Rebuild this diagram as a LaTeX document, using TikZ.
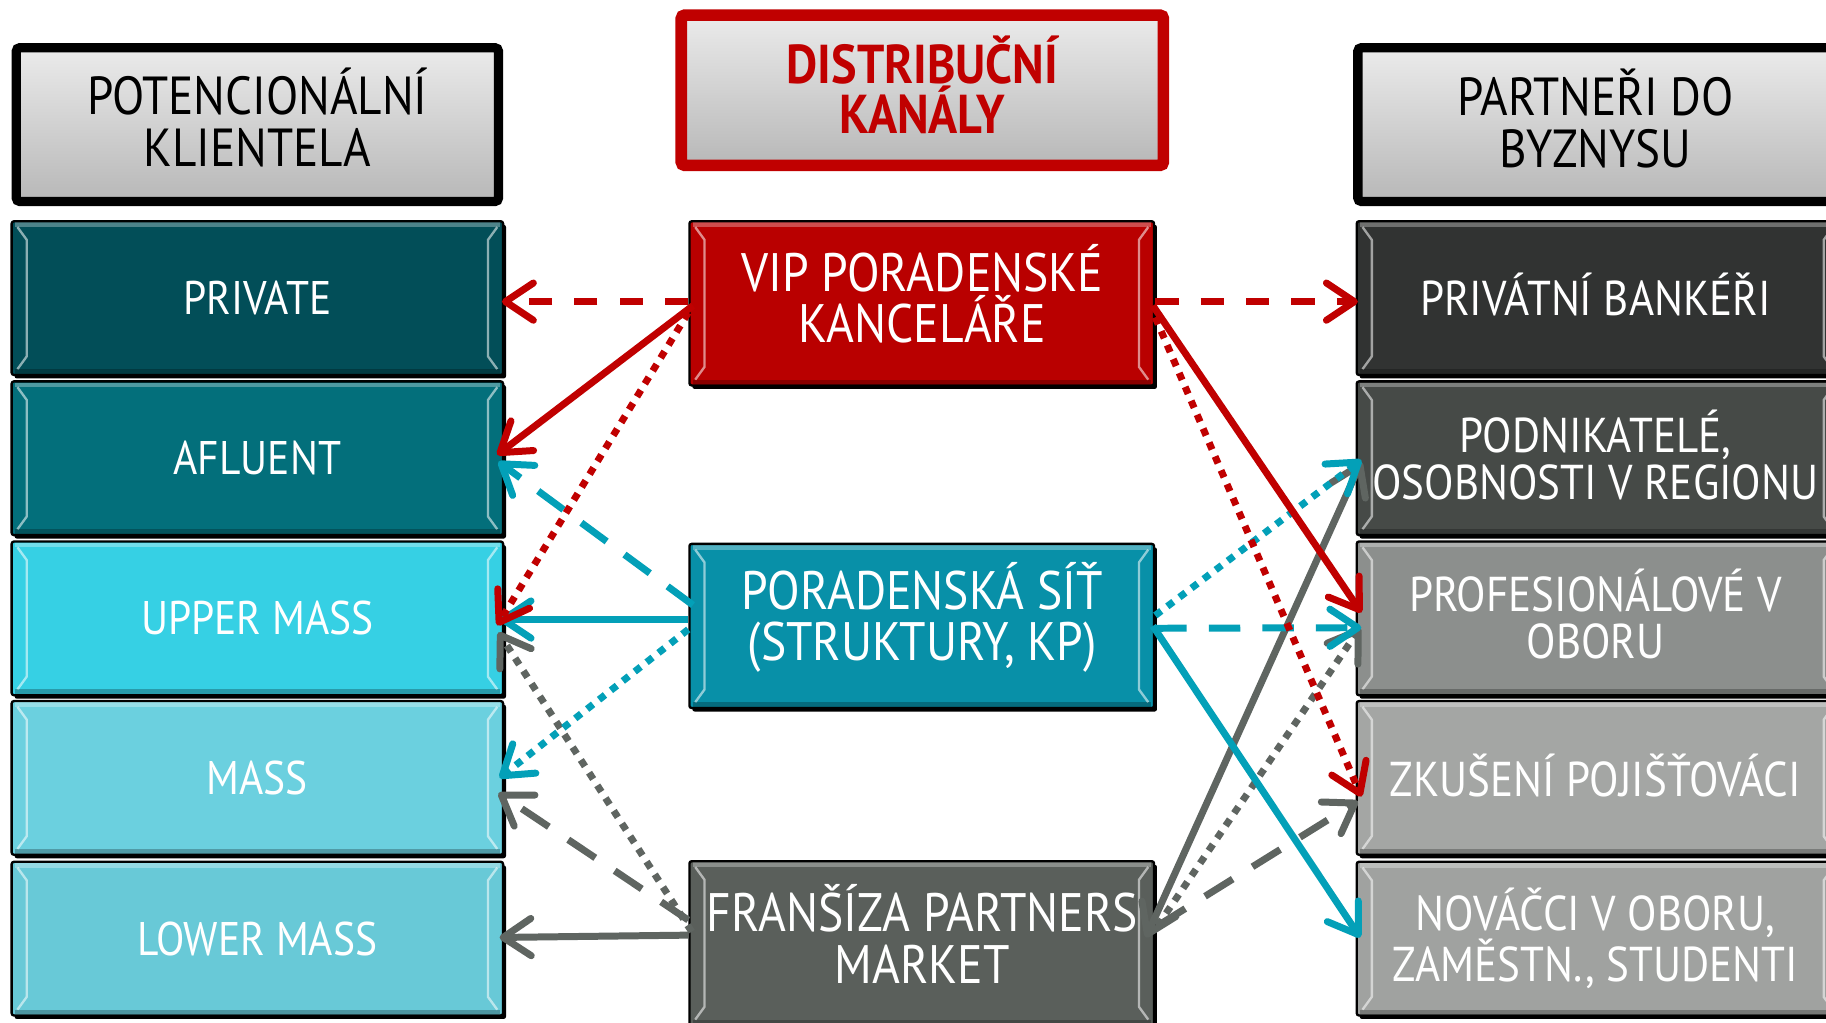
\documentclass[tikz,border=0pt]{standalone}
\usepackage{fontspec}
\setmainfont{PT Sans}[FakeStretch=0.88]
\usetikzlibrary{arrows.meta,calc,shadows}
\definecolor{cPriv}{HTML}{024E58}
\definecolor{cAflu}{HTML}{036F7B}
\definecolor{cUpper}{HTML}{36D0E4}
\definecolor{cMass}{HTML}{6BD0DF}
\definecolor{cLower}{HTML}{68C9D7}
\definecolor{cVip}{HTML}{B90000}
\definecolor{cPor}{HTML}{0890A8}
\definecolor{cFran}{HTML}{5A5F5B}
\definecolor{cBank}{HTML}{313332}
\definecolor{cPodn}{HTML}{464A47}
\definecolor{cProf}{HTML}{8C8F8D}
\definecolor{cZkus}{HTML}{A4A6A4}
\definecolor{cNov}{HTML}{A0A2A0}
\definecolor{aRed}{HTML}{C00000}
\definecolor{aTeal}{HTML}{03A0B8}
\definecolor{aGray}{HTML}{5F6561}
\begin{document}
\begin{tikzpicture}[x=1pt,y=-1pt,
  bx/.style={rectangle, rounded corners=2pt, draw=black, line width=2pt, fill=#1,
    inner sep=0pt,
    path picture={
      \draw[white, opacity=.55, line width=2pt, line join=round, sharp corners]
        ($(path picture bounding box.north west)+(5,5)$) -- ($(path picture bounding box.north west)+(13,16)$)
        -- ($(path picture bounding box.south west)+(13,-16)$) -- ($(path picture bounding box.south west)+(5,-5)$);
      \draw[white, opacity=.55, line width=2pt, line join=round, sharp corners]
        ($(path picture bounding box.north east)+(-5,5)$) -- ($(path picture bounding box.north east)+(-13,16)$)
        -- ($(path picture bounding box.south east)+(-13,-16)$) -- ($(path picture bounding box.south east)+(-5,-5)$);
      \draw[white, opacity=.3, line width=4pt, sharp corners]
        ($(path picture bounding box.north west)+(3,3)$) -- ($(path picture bounding box.north east)+(-3,3)$);
      \draw[black, opacity=.25, line width=4pt, sharp corners]
        ($(path picture bounding box.south west)+(3,-3)$) -- ($(path picture bounding box.south east)+(-3,-3)$);
    },
    drop shadow={shadow xshift=2.5pt, shadow yshift=-3pt, opacity=1, fill=black}},
  lbox/.style={bx=#1, minimum width=422, minimum height=132},
  cbox/.style={bx=#1, minimum width=399, minimum height=141},
  rbox/.style={bx=#1, minimum width=414, minimum height=132},
  txt/.style={text=white, align=center, inner sep=0pt},
  ltxt/.style={txt, font=\fontsize{40.5}{44}\selectfont},
  ctxt/.style={txt, font=\fontsize{46.5}{44}\selectfont},
  rtxt/.style={txt, font=\fontsize{42}{40}\selectfont},
  hdr/.style={rectangle, rounded corners=3pt, draw=#1, top color=black!8, bottom color=black!28,
    inner sep=0pt},
  htxt/.style={align=center, inner sep=0pt, font=\fontsize{46}{45}\selectfont},
  ar/.style={line width=6pt, -{Straight Barb[length=24pt,width=32pt,round]}},
  rdash/.style={ar, draw=aRed, dash pattern=on 20pt off 19pt},
  rdot/.style={ar, draw=aRed, dash pattern=on 6.5pt off 6.5pt},
  rsol/.style={ar, draw=aRed},
  tdash/.style={ar, draw=aTeal, dash pattern=on 27pt off 19pt},
  tdot/.style={ar, draw=aTeal, dash pattern=on 6.5pt off 6.5pt},
  tsol/.style={ar, draw=aTeal},
  gdash/.style={ar, draw=aGray, dash pattern=on 28pt off 20pt},
  gdot/.style={ar, draw=aGray, dash pattern=on 6.5pt off 6.5pt},
  gsol/.style={ar, draw=aGray}
]
\clip (0,0) rectangle (1568,878);
\fill[white] (0,0) rectangle (1568,878);

% headers
\node[hdr=black, line width=8pt, minimum width=414, minimum height=132] (HL) at (221,107) {};
\node[htxt] (HLt) at (221,101) {POTENCIONÁLNÍ\\KLIENTELA};
\node[hdr=aRed, line width=10pt, minimum width=414, minimum height=129] (HC) at (792,77.5) {};
\node[htxt, text=aRed, font=\fontsize{47}{43}\selectfont\bfseries] (HCt) at (792,73) {DISTRIBUČNÍ\\KANÁLY};
\node[hdr=black, line width=8pt, minimum width=414, minimum height=132] (HR) at (1373,107) {};
\node[htxt] (HRt) at (1370,102) {PARTNEŘI DO\\BYZNYSU};

% left column
\node[lbox=cPriv]  (L1) at (221,256)   {};
\node[lbox=cAflu]  (L2) at (221,393.5) {};
\node[lbox=cUpper] (L3) at (221,531)   {};
\node[lbox=cMass]  (L4) at (221,668)   {};
\node[lbox=cLower] (L5) at (221,806)   {};
\node[ltxt] (L1t) at (221,256)   {PRIVATE};
\node[ltxt] (L2t) at (221,393.5) {AFLUENT};
\node[ltxt] (L3t) at (221,531)   {UPPER MASS};
\node[ltxt] (L4t) at (221,668)   {MASS};
\node[ltxt] (L5t) at (221,806)   {LOWER MASS};

% center column
\node[cbox=cVip]  (C1) at (791.5,260.5) {};
\node[cbox=cPor]  (C2) at (791.5,537.5) {};
\node[cbox=cFran] (C3) at (791.5,810)   {};
\node[ctxt] (C1t) at (792,252) {VIP PORADENSKÉ\\KANCELÁŘE};
\node[ctxt] (C2t) at (792,530) {PORADENSKÁ SÍŤ\\(STRUKTURY, KP)};
\node[ctxt] (C3t) at (792,802) {FRANŠÍZA PARTNERS\\MARKET};

% right column
\node[rbox=cBank] (R1) at (1372,256)   {};
\node[rbox=cPodn] (R2) at (1372,393.5) {};
\node[rbox=cProf] (R3) at (1372,531)   {};
\node[rbox=cZkus] (R4) at (1372,668)   {};
\node[rbox=cNov]  (R5) at (1372,806)   {};
\node[rtxt] (R1t) at (1370,253)   {PRIVÁTNÍ BANKÉŘI};
\node[rtxt] (R2t) at (1370,390.5) {PODNIKATELÉ,\\OSOBNOSTI V REGIONU};
\node[rtxt] (R3t) at (1370,527.5) {PROFESIONÁLOVÉ V\\OBORU};
\node[rtxt] (R4t) at (1370,666)   {ZKUŠENÍ POJIŠŤOVÁCI};
\node[rtxt] (R5t) at (1370,806)   {NOVÁČCI V OBORU,\\ZAMĚSTN., STUDENTI};

% gray arrows (franchise)
\draw[gdot]  ($(C3.west)+(3,-10)$) -- ($(L3.east)+(-5,12)$);
\draw[gdash] ($(C3.west)+(0,-20)$) -- ($(L4.east)+(-5,13)$);
\draw[gsol]  ($(C3.west)+(0,-7)$)  -- ($(L5.east)+(-4,-1)$);
\draw[gsol, {Straight Barb[length=24pt,width=32pt,round]}-{Straight Barb[length=24pt,width=32pt,round]}] ($(C3.east)+(-8,-5)$) -- ($(R2.west)+(5,3)$);
\draw[gdot]  ($(C3.east)+(2,-15)$) -- ($(R3.west)+(4,8)$);
\draw[gdash] ($(C3.east)+(2,-15)$) -- ($(R4.west)+(2,20)$);

% teal arrows (network)
\draw[tdash] ($(C2.west)+(4,-18)$) -- ($(L2.east)+(-5,3)$);
\draw[tsol]  ($(C2.west)+(0,-5.5)$) -- ($(L3.east)+(-4,1)$);
\draw[tdot]  ($(C2.west)+(0,3)$) -- ($(L4.east)+(-4,0)$);
\draw[tdot]  ($(C2.east)+(0,-9)$) -- ($(R2.west)+(5,1.5)$);
\draw[tdash] ($(C2.east)+(0,2)$) -- ($(R3.west)+(5,8)$);
\draw[tsol]  ($(C2.east)+(-2,0)$) -- ($(R5.west)+(4,-1)$);

% red arrows (VIP)
\draw[rdash] ($(C1.west)+(0,-1.5)$) -- ($(L1.east)+(-2,3)$);
\draw[rdash] ($(C1.east)+(0,-1.5)$) -- ($(R1.west)+(2,3)$);
\draw[rsol]  ($(C1.west)+(4,2)$) -- ($(L2.east)+(-6,-3)$);
\draw[rdot]  ($(C1.west)+(0,8)$) -- ($(L3.east)+(-6,6)$);
\draw[rsol]  ($(C1.east)+(-2,2)$) -- ($(R3.west)+(5,-5)$);
\draw[rdot]  ($(C1.east)+(0,12)$) -- ($(R4.west)+(5,16)$);
\end{tikzpicture}
\end{document}
